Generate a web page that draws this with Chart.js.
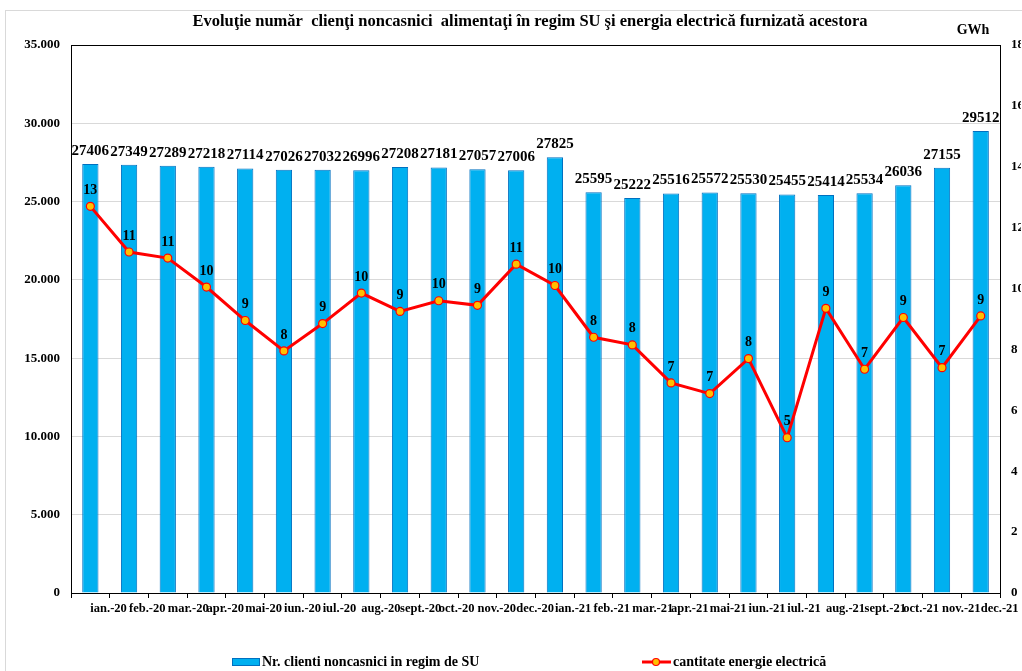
<!DOCTYPE html>
<html>
<head>
<meta charset="utf-8">
<script src="https://cdn.jsdelivr.net/npm/chart.js@4.4.1/dist/chart.umd.min.js"></script>
<style>
  body { margin: 0; background: #fff; }
  canvas { display: block; }
</style>
</head>
<body>
<canvas id="chart-clienti-su" width="1022" height="671"></canvas>
<script>
const categories = ["ian.-20", "feb.-20", "mar.-20", "apr.-20", "mai-20", "iun.-20", "iul.-20", "aug.-20", "sept.-20", "oct.-20", "nov.-20", "dec.-20",
    "ian.-21", "feb.-21", "mar.-21", "apr.-21", "mai-21", "iun.-21", "iul.-21", "aug.-21", "sept.-21", "oct.-21", "nov.-21", "dec.-21"];
const clientValues = [27406, 27349, 27289, 27218, 27114, 27026, 27032, 26996, 27208, 27181, 27057, 27006,
    27825, 25595, 25222, 25516, 25572, 25530, 25455, 25414, 25534, 26036, 27155, 29512];
const energyValues = [12.7, 11.2, 11.0, 10.05, 8.95, 7.95, 8.85, 9.85, 9.25, 9.6, 9.45, 10.8,
    10.1, 8.4, 8.15, 6.9, 6.55, 7.7, 5.1, 9.35, 7.35, 9.05, 7.4, 9.1];
const clientTicks = [0, 5000, 10000, 15000, 20000, 25000, 30000, 35000];
const energyTicks = [0, 2, 4, 6, 8, 10, 12, 14, 16, 18];

const serif = '"Liberation Serif", "Times New Roman", serif';

function thousands(v) {
    return String(v).replace(/\B(?=(\d{3})+(?!\d))/g, '.');
}

const decorPlugin = {
    id: 'decor',
    beforeDraw(chart) {
        const ctx = chart.ctx;
        ctx.save();
        ctx.strokeStyle = '#d9d9d9';
        ctx.lineWidth = 1;
        ctx.strokeRect(5.5, 10.5, 1100, 1000);
        ctx.restore();
    },
    beforeDatasetsDraw(chart) {
        const a = chart.chartArea;
        const ctx = chart.ctx;
        ctx.save();
        ctx.strokeStyle = '#000';
        ctx.lineWidth = 1;
        ctx.strokeRect(Math.round(a.left) + 0.5, Math.round(a.top) + 0.5, Math.round(a.right - a.left), Math.round(a.bottom - a.top));
        ctx.restore();
    },
    afterDatasetsDraw(chart) {
        const ctx = chart.ctx;
        ctx.save();
        ctx.fillStyle = '#000';
        ctx.textAlign = 'center';
        ctx.textBaseline = 'middle';
        ctx.font = 'bold 15px ' + serif;
        chart.getDatasetMeta(1).data.forEach((bar, i) => {
            ctx.fillText(String(clientValues[i]), bar.x, bar.y - 13);
        });
        ctx.font = 'bold 14px ' + serif;
        chart.getDatasetMeta(0).data.forEach((pt, i) => {
            ctx.fillText(String(Math.round(energyValues[i])), pt.x, pt.y - 16);
        });
        ctx.restore();
    },
    afterDraw(chart) {
        const ctx = chart.ctx;
        ctx.save();
        ctx.fillStyle = '#000';
        ctx.textBaseline = 'middle';
        ctx.textAlign = 'center';
        ctx.font = 'bold 16.5px ' + serif;
        ctx.fillText('Evoluţie număr  clienţi noncasnici  alimentaţi în regim SU şi energia electrică furnizată acestora', 530, 22);
        ctx.font = 'bold 14px ' + serif;
        ctx.fillText('GWh', 973, 30);

        // legend
        ctx.textAlign = 'left';
        ctx.fillStyle = '#00B0F0';
        ctx.fillRect(232, 658, 27, 7);
        ctx.strokeStyle = '#0070C0';
        ctx.lineWidth = 1;
        ctx.strokeRect(232.5, 658.5, 27, 7);
        ctx.fillStyle = '#000';
        ctx.font = 'bold 14px ' + serif;
        ctx.fillText('Nr. clienti noncasnici in regim de SU', 262, 662);

        ctx.strokeStyle = '#FF0000';
        ctx.lineWidth = 3;
        ctx.beginPath();
        ctx.moveTo(642, 662);
        ctx.lineTo(671, 662);
        ctx.stroke();
        ctx.beginPath();
        ctx.arc(656, 662, 3.5, 0, Math.PI * 2);
        ctx.fillStyle = '#FFC000';
        ctx.fill();
        ctx.lineWidth = 1.2;
        ctx.stroke();
        ctx.fillStyle = '#000';
        ctx.fillText('cantitate energie electrică', 673, 662);
        ctx.restore();
    }
};

const config_clienti = {
    type: 'bar',
    data: {
        labels: categories,
        datasets: [
            {
                type: 'line',
                label: 'cantitate energie electrică',
                data: energyValues,
                yAxisID: 'y1',
                borderColor: '#FF0000',
                borderWidth: 3,
                pointRadius: 4,
                pointBackgroundColor: '#FFC000',
                pointBorderColor: '#FF0000',
                pointBorderWidth: 1.2,
                tension: 0,
                order: 1
            },
            {
                label: 'Nr. clienti noncasnici in regim de SU',
                data: clientValues,
                yAxisID: 'y',
                backgroundColor: '#00B0F0',
                borderColor: '#0070C0',
                borderWidth: 1,
                barPercentage: 0.42,
                categoryPercentage: 1,
                order: 2
            }
        ]
    },
    options: {
        responsive: false,
        animation: false,
        layout: { padding: { top: 45, left: 0, right: 0, bottom: 0 } },
        plugins: {
            legend: { display: false },
            title: { display: false },
            tooltip: { enabled: false }
        },
        scales: {
            x: {
                grid: { drawOnChartArea: false, drawTicks: true, tickLength: 5, color: '#000', offset: true },
                border: { color: '#000' },
                ticks: {
                    autoSkip: false,
                    maxRotation: 0,
                    align: 'start',
                    padding: 3,
                    color: '#000',
                    font: { family: serif, size: 12.5, weight: 'bold' }
                },
                afterFit(scale) { scale.height = 78; }
            },
            y: {
                position: 'left',
                min: 0,
                max: 35000,
                afterBuildTicks(scale) { scale.ticks = clientTicks.map(v => ({ value: v })); },
                grid: { color: '#d9d9d9', drawTicks: false },
                border: { color: '#000' },
                ticks: {
                    padding: 11,
                    color: '#000',
                    font: { family: serif, size: 13, weight: 'bold' },
                    callback: v => thousands(v)
                },
                afterFit(scale) { scale.width = 71; }
            },
            y1: {
                position: 'right',
                min: 0,
                max: 18,
                afterBuildTicks(scale) { scale.ticks = energyTicks.map(v => ({ value: v })); },
                grid: { drawOnChartArea: false, drawTicks: false },
                border: { color: '#000' },
                ticks: {
                    padding: 11,
                    color: '#000',
                    font: { family: serif, size: 13, weight: 'bold' }
                },
                afterFit(scale) { scale.width = 21; }
            }
        }
    },
    plugins: [decorPlugin]
};

var context_chart_clienti = document.getElementById("chart-clienti-su");
var chart_clienti = new Chart(context_chart_clienti, config_clienti);
</script>
</body>
</html>
